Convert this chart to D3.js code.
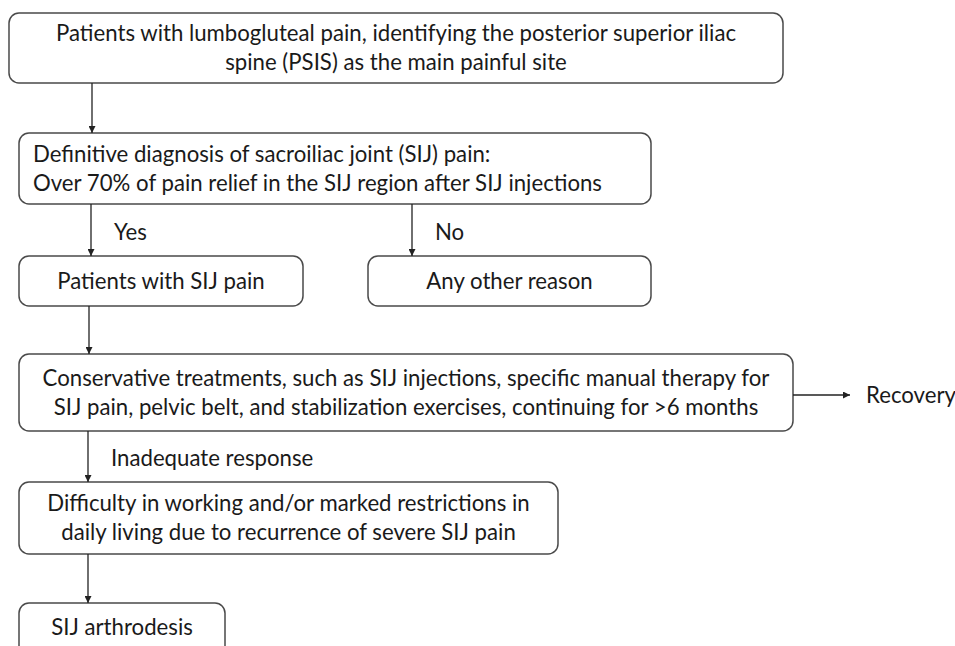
<!DOCTYPE html>
<html>
<head>
<meta charset="utf-8">
<script src="https://cdn.jsdelivr.net/npm/d3@7"></script>
<style>
  body { margin: 0; background: #fff; }
  svg { display: block; }
</style>
</head>
<body>
<svg id="chart" width="955" height="646"></svg>
<script>
// box texts (one entry per line)
var boxIds = ["start", "diag", "sij", "other", "cons", "diff", "arth"];
var boxLines = [
  ["Patients with lumbogluteal pain, identifying the posterior superior iliac", "spine (PSIS) as the main painful site"],
  ["Definitive diagnosis of sacroiliac joint (SIJ) pain:", "Over 70% of pain relief in the SIJ region after SIJ injections"],
  ["Patients with SIJ pain"],
  ["Any other reason"],
  ["Conservative treatments, such as SIJ injections, specific manual therapy for", "SIJ pain, pelvic belt, and stabilization exercises, continuing for >6 months"],
  ["Difficulty in working and/or marked restrictions in", "daily living due to recurrence of severe SIJ pain"],
  ["SIJ arthrodesis"]
];
var boxAlign = ["middle", "start", "middle", "middle", "middle", "middle", "middle"];

// arrows: from -> to, with optional label
var arrowFrom = ["start", "diag", "diag", "sij", "cons", "diff", "cons"];
var arrowTo = ["diag", "sij", "other", "cons", "diff", "arth", "recovery"];
var arrowLabels = ["", "Yes", "No", "", "Inadequate response", "", ""];
var freeLabels = ["Recovery"];

// layout (page pixels)
var layout = {
  start: {x0: 9, x1: 783, y0: 13, y1: 83},
  diag: {x0: 19, x1: 651, y0: 133, y1: 204},
  sij: {x0: 19, x1: 303, y0: 256, y1: 306},
  other: {x0: 368, x1: 651, y0: 256, y1: 306},
  cons: {x0: 19, x1: 793, y0: 354, y1: 431},
  diff: {x0: 19, x1: 558, y0: 482, y1: 554},
  arth: {x0: 19, x1: 225, y0: 603, y1: 660}
};
var arrowX = [92, 91, 412, 89, 88, 88, null];

var svg = d3.select("#chart");
var stroke = "#4a4a4a";
var fontFam = "Lato, 'Open Sans', sans-serif";
var fs = 22.2;

svg.append("defs").append("marker")
    .attr("id", "head")
    .attr("viewBox", "0 0 10 10")
    .attr("refX", 10)
    .attr("refY", 5)
    .attr("markerWidth", 7)
    .attr("markerHeight", 7)
    .attr("markerUnits", "userSpaceOnUse")
    .attr("orient", "auto")
  .append("path")
    .attr("d", "M0,0L10,5L0,10Z")
    .attr("fill", "#222");

var boxes = boxIds.map(function(id, i) {
  var b = layout[id];
  return {id: id, lines: boxLines[i], align: boxAlign[i], x0: b.x0, x1: b.x1, y0: b.y0, y1: b.y1};
});

var g = svg.selectAll("g.box").data(boxes).enter().append("g").attr("class", "box");

g.append("rect")
    .attr("x", function(d) { return d.x0; })
    .attr("y", function(d) { return d.y0; })
    .attr("width", function(d) { return d.x1 - d.x0; })
    .attr("height", function(d) { return d.y1 - d.y0; })
    .attr("rx", 10)
    .attr("fill", "#fff")
    .attr("stroke", stroke)
    .attr("stroke-width", 1.5);

var lineH = 29;
g.each(function(d) {
  var n = d.lines.length;
  var cy = d.id == "arth" ? 627 : (d.y0 + d.y1) / 2;
  var tx = d.align == "start" ? d.x0 + 14 : (d.x0 + d.x1) / 2;
  d3.select(this).selectAll("text").data(d.lines).enter().append("text")
      .attr("x", tx)
      .attr("y", function(t, j) { return cy + (j - (n - 1) / 2) * lineH; })
      .attr("dy", "0.35em")
      .attr("text-anchor", d.align)
      .attr("font-family", fontFam)
      .attr("font-size", fs)
      .attr("fill", "#1a1a1a")
      .text(function(t) { return t; });
});

// arrows
arrowFrom.forEach(function(f, i) {
  var a = layout[f];
  var x1, y1, x2, y2;
  if (arrowTo[i] == "recovery") {
    x1 = a.x1; y1 = 395; x2 = 850; y2 = 395;
  } else {
    var b = layout[arrowTo[i]];
    x1 = arrowX[i]; x2 = arrowX[i]; y1 = a.y1; y2 = b.y0;
  }
  svg.append("line")
      .attr("x1", x1).attr("y1", y1)
      .attr("x2", x2).attr("y2", y2)
      .attr("stroke", "#222")
      .attr("stroke-width", 1.3)
      .attr("marker-end", "url(#head)");
  if (arrowLabels[i]) {
    svg.append("text")
        .attr("x", x1 + 23)
        .attr("y", (y1 + y2) / 2 + 2)
        .attr("dy", "0.35em")
        .attr("font-family", fontFam)
        .attr("font-size", fs)
        .attr("fill", "#1a1a1a")
        .text(arrowLabels[i]);
  }
});

svg.append("text")
    .attr("x", 866)
    .attr("y", 395)
    .attr("dy", "0.35em")
    .attr("font-family", fontFam)
    .attr("font-size", fs)
    .attr("fill", "#1a1a1a")
    .text(freeLabels[0]);
</script>
</body>
</html>
